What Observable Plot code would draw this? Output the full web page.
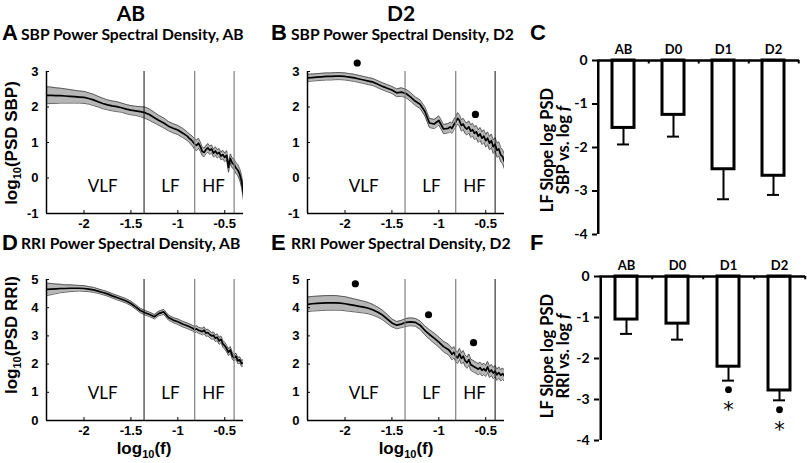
<!DOCTYPE html>
<html><head><meta charset="utf-8">
<script src="https://cdn.jsdelivr.net/npm/d3@7"></script>
<script src="https://cdn.jsdelivr.net/npm/@observablehq/plot@0.6"></script>
<style>
body{margin:0;background:#fff;}
#fig{position:relative;width:807px;height:463px;overflow:hidden;background:#fff;}
.t{position:absolute;white-space:nowrap;line-height:1;color:#000;}
.lc{transform:translate(0,-50%);}
.cc{transform:translate(-50%,-50%);}
.rot{transform:translate(-50%,-50%) rotate(-90deg);text-align:center;}
.letter{font:bold 22px "Liberation Sans",Arial,sans-serif;}
.head{font:bold 21px Lato,sans-serif;}
.title{font:bold 15.7px Lato,sans-serif;}
.axl{font:bold 17px "Liberation Sans",Arial,sans-serif;}
.axl sub{font-size:11px;vertical-align:-4px;}
.slab{font:bold 16.5px/16px Lato,sans-serif;}
</style></head>
<body><div id="fig"></div>
<script>
// ---------- data ----------
const freqGrid = [-2.40,-2.35,-2.30,-2.25,-2.20,-2.15,-2.10,-2.05,-2.00,-1.95,-1.90,-1.85,-1.80,-1.75,-1.70,-1.65,-1.60,-1.55,-1.50,-1.45,-1.40,-1.35,-1.30,-1.25,-1.20,-1.15,-1.10,-1.05,-1.00,-0.95,-0.90,
  -0.88,-0.86,-0.84,-0.82,-0.80,-0.78,-0.76,-0.74,-0.72,-0.70,-0.68,-0.66,-0.64,-0.62,-0.60,-0.58,-0.56,-0.54,-0.52,-0.50,-0.48,-0.46,-0.44,-0.42,-0.40,-0.38,-0.36,-0.34,-0.32,-0.30];

const sbpAbMean = [2.33,2.33,2.32,2.32,2.31,2.30,2.29,2.28,2.27,2.24,2.20,2.15,2.10,2.06,2.03,2.01,1.98,1.94,1.91,1.89,1.87,1.84,1.78,1.70,1.62,1.55,1.46,1.40,1.35,1.27,1.18,
  1.12,1.08,1.02,0.95,0.92,0.98,0.88,0.75,0.72,0.80,0.85,0.78,0.82,0.70,0.76,0.68,0.72,0.62,0.66,0.58,0.64,0.30,0.55,0.42,0.38,0.28,0.22,0.10,-0.10,-0.45];
const sbpAbSe = [0.24,0.23,0.22,0.21,0.20,0.19,0.18,0.17,0.17,0.16,0.16,0.15,0.15,0.14,0.14,0.14,0.13,0.13,0.13,0.13,0.14,0.16,0.16,0.15,0.14,0.14,0.13,0.13,0.13,0.13,0.12,
  0.12,0.13,0.14,0.15,0.15,0.14,0.13,0.12,0.12,0.11,0.12,0.12,0.11,0.11,0.12,0.12,0.11,0.11,0.12,0.12,0.13,0.14,0.13,0.14,0.15,0.15,0.16,0.16,0.17,0.18];

const sbpD2Mean = [2.82,2.83,2.84,2.85,2.86,2.86,2.87,2.87,2.86,2.84,2.82,2.79,2.76,2.73,2.70,2.64,2.58,2.53,2.48,2.40,2.42,2.38,2.28,2.16,2.08,1.88,1.55,1.52,1.62,1.38,1.40,
  1.44,1.40,1.50,1.58,1.68,1.62,1.48,1.52,1.42,1.38,1.44,1.32,1.36,1.26,1.30,1.18,1.24,1.12,1.18,1.05,1.12,0.98,1.05,0.88,0.95,0.78,0.82,0.65,0.60,0.45];
const sbpD2Se = [0.10,0.10,0.10,0.10,0.10,0.10,0.10,0.10,0.10,0.10,0.10,0.10,0.10,0.10,0.10,0.10,0.10,0.10,0.10,0.11,0.12,0.12,0.12,0.12,0.12,0.13,0.13,0.13,0.13,0.13,0.13,
  0.14,0.14,0.15,0.15,0.16,0.16,0.16,0.16,0.17,0.17,0.17,0.18,0.18,0.18,0.18,0.18,0.18,0.18,0.18,0.18,0.18,0.19,0.19,0.19,0.19,0.20,0.20,0.20,0.20,0.20];

const rriAbMean = [4.65,4.66,4.67,4.68,4.68,4.69,4.69,4.69,4.68,4.66,4.63,4.59,4.54,4.49,4.42,4.36,4.30,4.24,4.15,4.03,3.90,3.82,3.76,3.68,3.80,3.85,3.65,3.56,3.50,3.42,3.36,
  3.33,3.30,3.27,3.22,3.25,3.20,3.18,3.15,3.20,3.10,3.12,3.05,3.00,3.02,2.92,2.95,2.82,2.88,2.72,2.65,2.55,2.42,2.50,2.30,2.22,2.28,2.12,2.15,2.02,2.05];
const rriAbSe = [0.22,0.20,0.17,0.15,0.13,0.12,0.11,0.10,0.10,0.09,0.09,0.08,0.08,0.08,0.08,0.08,0.08,0.08,0.08,0.08,0.08,0.08,0.08,0.08,0.08,0.09,0.09,0.09,0.10,0.10,0.10,
  0.10,0.10,0.10,0.11,0.11,0.11,0.11,0.12,0.12,0.12,0.12,0.12,0.12,0.12,0.12,0.12,0.12,0.12,0.12,0.12,0.12,0.12,0.12,0.12,0.12,0.11,0.11,0.11,0.11,0.11];

const rriD2Mean = [4.12,4.14,4.15,4.16,4.17,4.17,4.17,4.16,4.14,4.11,4.08,4.05,4.02,3.98,3.92,3.84,3.74,3.60,3.46,3.38,3.42,3.48,3.50,3.48,3.38,3.20,3.05,2.92,2.78,2.62,2.52,
  2.45,2.35,2.42,2.28,2.22,2.36,2.20,2.28,2.12,2.05,2.16,1.98,1.94,1.90,1.86,1.82,1.87,1.78,1.83,1.76,1.90,1.72,1.79,1.68,1.75,1.62,1.70,1.60,1.66,1.58];
const rriD2Se = [0.26,0.26,0.26,0.26,0.26,0.26,0.26,0.25,0.25,0.24,0.23,0.22,0.21,0.20,0.19,0.18,0.17,0.16,0.14,0.13,0.13,0.14,0.14,0.14,0.15,0.16,0.17,0.18,0.18,0.19,0.19,
  0.20,0.20,0.20,0.20,0.20,0.20,0.20,0.20,0.20,0.20,0.20,0.20,0.20,0.20,0.20,0.20,0.20,0.20,0.20,0.20,0.20,0.20,0.20,0.20,0.20,0.20,0.20,0.20,0.20,0.20];

const xDomain = [-2.4, -0.3];
const xTicks = [-2, -1.5, -1, -0.5];
const sbpTicks = [-1, 0, 1, 2, 3];
const rriTicks = [0, 1, 2, 3, 4, 5];
const bandEdges = [-1.36, -0.82, -0.40];
const bandNames = ["VLF", "LF", "HF"];
const bandNamePos = [-1.80, -1.08, -0.62];

const sbpD2DotF = [-1.87, -0.61];
const sbpD2DotY = [3.24, 1.79];
const rriD2DotF = [-1.89, -1.11, -0.63];
const rriD2DotY = [4.85, 3.75, 2.76];

const groups = ["AB", "D0", "D1", "D2"];
const sbpSlope = [-1.55, -1.25, -2.50, -2.65];
const sbpSlopeLow = [-1.93, -1.75, -3.19, -3.09];
const rriSlope = [-1.05, -1.15, -2.20, -2.78];
const rriSlopeLow = [-1.40, -1.54, -2.54, -3.02];
const rriSigGroups = ["D1", "D2"];
const rriSigDot = [-2.76, -3.25];
const rriSigStar = [-3.15, -3.63];
const slopeTicks = [-4, -3, -2, -1, 0];

// ---------- drawing ----------
const fig = document.getElementById("fig");
const fmt = d => String(d);

function place(svg, left, top) {
  svg.style.position = "absolute";
  svg.style.left = left + "px";
  svg.style.top = top + "px";
  svg.style.background = "none";
  svg.style.overflow = "visible";
  fig.appendChild(svg);
}

function psdPanel(o) {
  const rows = freqGrid.map((f, i) => ({f, m: o.mean[i], s: o.se[i]}));
  const W = 250, H = 180, plotW = 197;
  const plotH = H - o.mT - o.mB;
  const dark = o.darkIdx.map(i => bandEdges[i]);
  const gray = bandEdges.filter((e, i) => !o.darkIdx.includes(i));
  const marks = [
    Plot.areaY(rows, {x: "f", y1: d => d.m - d.s, y2: d => d.m + d.s, fill: "#b6b6b6", clip: true}),
    Plot.lineY(rows, {x: "f", y: d => d.m + d.s, stroke: "#404040", strokeWidth: 0.8, clip: true}),
    Plot.lineY(rows, {x: "f", y: d => d.m - d.s, stroke: "#404040", strokeWidth: 0.8, clip: true}),
    Plot.lineY(rows, {x: "f", y: "m", stroke: "#000", strokeWidth: 1.7, clip: true}),
    Plot.ruleX(dark, {stroke: "#111", strokeWidth: 1}),
    Plot.ruleX(gray, {stroke: "#808080", strokeWidth: 1.2}),
    Plot.text(bandNames, {x: (d, i) => bandNamePos[i], text: d => d, frameAnchor: "bottom", dy: -22,
      fontFamily: "Lato", fontSize: 17, fontWeight: "normal"}),
    Plot.ruleX(xTicks, {insetTop: plotH - 3, stroke: "#000"}),
    Plot.ruleY(o.yTicks, {insetRight: plotW - 3, stroke: "#000"}),
    Plot.ruleX([xDomain[0]], {stroke: "#000", strokeWidth: 1.5}),
    Plot.ruleY([o.yDomain[0]], {stroke: "#000", strokeWidth: 1.5}),
    Plot.axisX({ticks: xTicks, tickSize: 0, tickPadding: 5, tickFormat: fmt, label: null}),
    Plot.axisY({ticks: o.yTicks, tickSize: 0, tickPadding: 8, tickFormat: fmt, label: null})
  ];
  if (o.dotF) {
    const dots = o.dotF.map((f, i) => ({f, y: o.dotY[i]}));
    marks.push(Plot.dot(dots, {x: "f", y: "y", r: 3.6, fill: "#000", stroke: "none"}));
  }
  const svg = Plot.plot({
    width: W, height: H,
    marginLeft: o.mL, marginRight: W - o.mL - plotW, marginTop: o.mT, marginBottom: o.mB,
    x: {domain: xDomain, label: null},
    y: {domain: o.yDomain, label: null},
    style: {fontFamily: "'Liberation Sans', Arial, sans-serif", fontSize: "13px", fontWeight: "bold", color: "#000"},
    marks
  });
  place(svg, o.left, o.top);
}

function slopePanel(o) {
  const rows = groups.map((g, i) => ({g, m: o.mean[i], lo: o.low[i]}));
  const W = 277;
  const half = (W - o.mL - o.mR) / groups.length / 2;
  const marks = [
    Plot.ruleX(rows, {x: "g", y1: "m", y2: "lo", stroke: "#000", strokeWidth: 2}),
    Plot.tickY(rows, {x: "g", y: "lo", stroke: "#000", strokeWidth: 2, insetLeft: 5, insetRight: 5}),
    Plot.barY(rows, {x: "g", y: "m", fill: "#fff", stroke: "#000", strokeWidth: 3}),
    Plot.ruleY([0], {stroke: "#000", strokeWidth: 2.5}),
    Plot.ruleX([groups[0]], {x: d => d, y1: 0, y2: -4, dx: -half, stroke: "#000", strokeWidth: 2.5}),
    Plot.ruleX(groups, {x: d => d, y1: 0, y2: -0.08, dx: half, stroke: "#000", strokeWidth: 2}),
    Plot.axisX({anchor: "top", tickSize: 0, tickPadding: o.catPad, fontFamily: "Lato", fontSize: 13, fontWeight: "bold", label: null}),
    Plot.axisY({ticks: slopeTicks, tickSize: 5, tickPadding: 5, strokeWidth: 2, tickFormat: fmt,
      fontFamily: "Lato", fontSize: 14, fontWeight: "bold", label: null})
  ];
  if (o.sigG) {
    const sig = o.sigG.map((g, i) => ({g, dot: o.sigDot[i], star: o.sigStar[i]}));
    marks.push(Plot.dot(sig, {x: "g", y: "dot", r: 3.4, fill: "#000", stroke: "none"}));
    marks.push(Plot.text(sig, {x: "g", y: "star", text: () => "*", fontFamily: "DejaVu Sans", fontSize: 21, fontWeight: "normal", dy: 5}));
  }
  const svg = Plot.plot({
    width: W, height: o.H,
    marginLeft: o.mL, marginRight: o.mR, marginTop: o.mT, marginBottom: o.mB,
    x: {domain: groups, paddingInner: 0.57, paddingOuter: 0.285, label: null},
    y: {domain: [-4, 0], label: null},
    style: {fontFamily: "Lato, sans-serif", fontSize: "14px", fontWeight: "bold", color: "#000"},
    marks
  });
  place(svg, o.left, o.top);
}

psdPanel({left: 0, top: 60, mL: 46, mT: 11, mB: 27, mean: sbpAbMean, se: sbpAbSe, yDomain: [-1, 3], yTicks: sbpTicks, darkIdx: [0]});
psdPanel({left: 261, top: 60, mL: 46, mT: 11, mB: 27, mean: sbpD2Mean, se: sbpD2Se, yDomain: [-1, 3], yTicks: sbpTicks, darkIdx: [2], dotF: sbpD2DotF, dotY: sbpD2DotY});
psdPanel({left: 0, top: 265, mL: 46, mT: 14, mB: 25, mean: rriAbMean, se: rriAbSe, yDomain: [0, 5], yTicks: rriTicks, darkIdx: [0]});
psdPanel({left: 261, top: 265, mL: 46, mT: 14, mB: 25, mean: rriD2Mean, se: rriD2Se, yDomain: [0, 5], yTicks: rriTicks, darkIdx: [2], dotF: rriD2DotF, dotY: rriD2DotY});
slopePanel({left: 530, top: 30, H: 215, mL: 67, mR: 8, mT: 30, mB: 11, catPad: 7, mean: sbpSlope, low: sbpSlopeLow});
slopePanel({left: 530, top: 250, H: 200, mL: 69, mR: 2, mT: 26, mB: 10, catPad: 7, mean: rriSlope, low: rriSlopeLow,
  sigG: rriSigGroups, sigDot: rriSigDot, sigStar: rriSigStar});

// ---------- text ----------
function txt(html, cls, x, y) {
  const d = document.createElement("div");
  d.className = "t " + cls;
  d.style.left = x + "px";
  d.style.top = y + "px";
  d.innerHTML = html;
  fig.appendChild(d);
}
txt("AB", "head cc", 131, 12);
txt("D2", "head cc", 401, 12);
txt("A", "letter lc", 2, 33);
txt("B", "letter lc", 271, 33);
txt("C", "letter lc", 530, 33);
txt("D", "letter lc", 2, 243);
txt("E", "letter lc", 271, 243);
txt("F", "letter lc", 530, 243);
txt("SBP Power Spectral Density, AB", "title lc", 21, 34);
txt("SBP Power Spectral Density, D2", "title lc", 291, 34);
txt("RRI Power Spectral Density, AB", "title lc", 21, 243);
txt("RRI Power Spectral Density, D2", "title lc", 291, 243);
txt("log<sub>10</sub>(PSD SBP)", "axl rot", 12, 143);
txt("log<sub>10</sub>(PSD RRI)", "axl rot", 12, 335);
txt("log<sub>10</sub>(f)", "axl cc", 144, 449);
txt("log<sub>10</sub>(f)", "axl cc", 406, 449);
txt("LF Slope log PSD<br>SBP vs. log <i>f</i>", "slab rot", 555, 150);
txt("LF Slope log PSD<br>RRI vs. log <i>f</i>", "slab rot", 555, 356);
</script>
</body></html>
